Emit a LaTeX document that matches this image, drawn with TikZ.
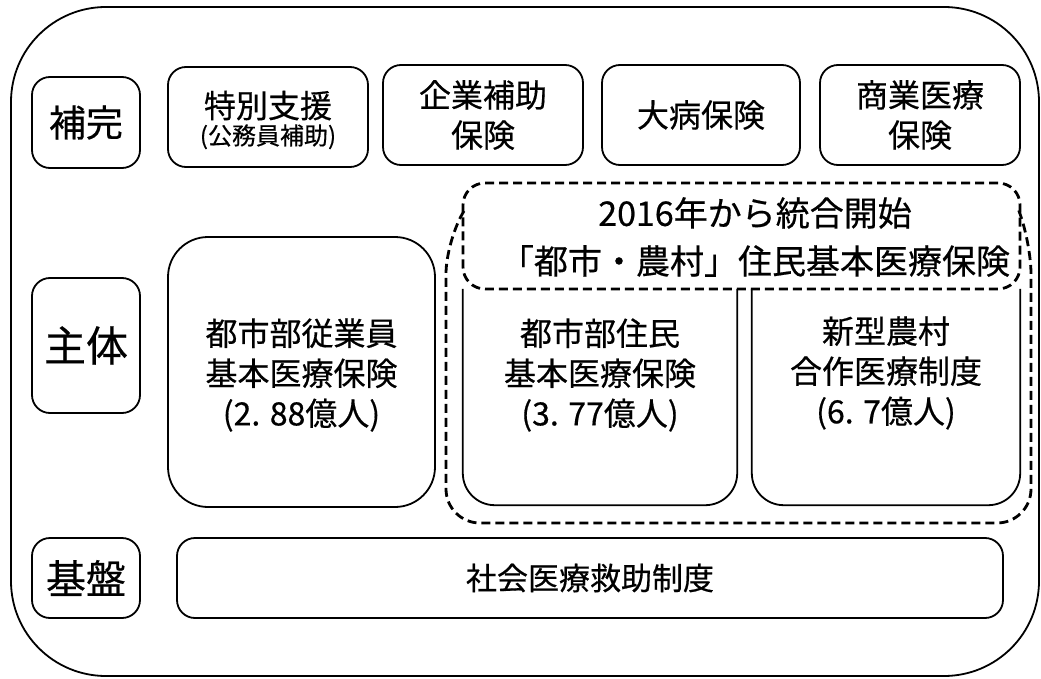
\documentclass[tikz,border=0pt]{standalone}
\usepackage{fontspec}
\setmainfont{Noto Sans CJK JP}[FakeBold=0.5]
\begin{document}
\begin{tikzpicture}[x=1pt,y=-1pt,
  box/.style={draw,line width=1.8pt,rounded corners=18pt,align=center,inner sep=0pt},
  txt/.style={align=center,inner sep=0pt},
  dsh/.style={line width=2.8pt,dash pattern=on 9pt off 5pt},
  big/.style={font=\fontsize{32}{40}\selectfont},
  lbl/.style={font=\fontsize{37}{40}\selectfont}]
\useasboundingbox (0,0) rectangle (1041,679);
% outer frame
\node[draw,line width=1.8pt,rounded corners=95pt,minimum width=1028pt,minimum height=669pt,inner sep=0pt] (frame) at (525,341.5) {};
% row 1
\node[box,lbl,minimum width=108pt,minimum height=91pt] (hokan) at (86,122.5) {補完};
\node[box,minimum width=200pt,minimum height=100pt] (tokubetsu) at (268,117) {};
\node[txt] at (268,120) {{\fontsize{32}{40}\selectfont 特別支援}\\[3pt]{\fontsize{24}{40}\selectfont (公務員補助)}};
\node[box,big,minimum width=200pt,minimum height=100pt] (kigyo) at (483,115) {企業補助\\保険};
\node[box,big,minimum width=198pt,minimum height=100pt] (taibyo) at (701,115) {大病保険};
\node[box,big,minimum width=200pt,minimum height=100pt] (shogyo) at (920,115) {商業医療\\保険};
% row 2
\node[box,font=\fontsize{42}{44}\selectfont,minimum width=108pt,minimum height=135pt] (shutai) at (86,345.5) {主体};
\node[box,rounded corners=40pt,minimum width=267pt,minimum height=270pt] (jugyoin) at (301.5,372) {};
\node[txt,big] at (301.5,375) {都市部従業員\\基本医療保険\\(2. 88億人)};
% group
\node[draw,dsh,rounded corners=22pt,minimum width=557pt,minimum height=106pt,inner sep=0pt] (title) at (741.5,236) {};
\node[txt,font=\fontsize{34}{48}\selectfont] (titletext) at (755,237) {2016年から統合開始\\「都市・農村」住民基本医療保険};
\node[minimum width=274pt,minimum height=216pt,inner sep=0pt] (toshi) at (600,397) {};
\node[minimum width=268pt,minimum height=216pt,inner sep=0pt] (noson) at (886,397) {};
\draw[line width=1.8pt,rounded corners=32pt] (toshi.north west) |- (toshi.south) -| (toshi.north east);
\draw[line width=1.8pt,rounded corners=32pt] (noson.north west) |- (noson.south) -| (noson.north east);
\node[txt,big] at (600,375) {都市部住民\\基本医療保険\\(3. 77億人)};
\node[txt,big] at (886,373) {新型農村\\合作医療制度\\(6. 7億人)};
\coordinate (gl) at (464,211);
\coordinate (gr) at (1019,211);
\draw[dsh,rounded corners=34pt] (gl) -- (446,240) -- (446,523) -- (1031,523) -- (1031,240) -- (gr);
% row 3
\node[box,font=\fontsize{40}{44}\selectfont,minimum width=108pt,minimum height=80pt] (kiban) at (86,578) {基盤};
\node[box,font=\fontsize{31}{40}\selectfont,minimum width=826pt,minimum height=80pt] (kyujo) at (590,578) {社会医療救助制度};
\end{tikzpicture}
\end{document}
